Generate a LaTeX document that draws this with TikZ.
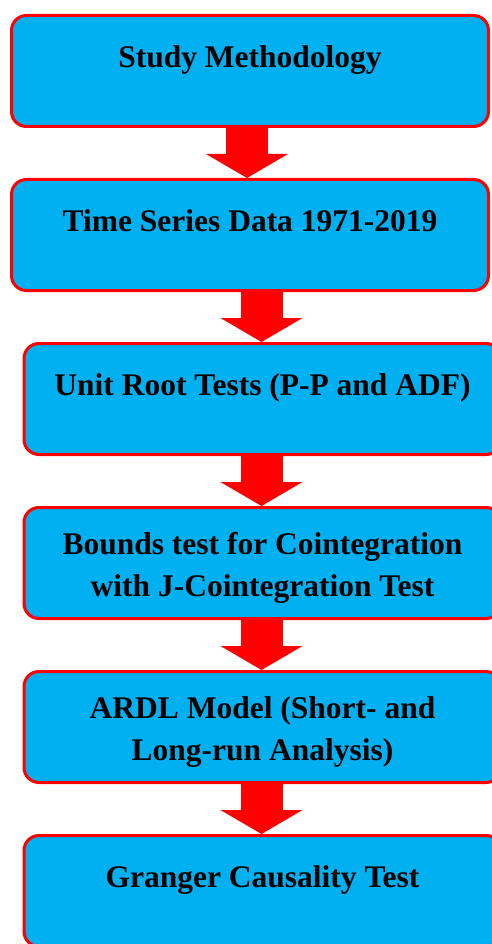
\documentclass[tikz,border=0pt]{standalone}
\usepackage{fontspec}
\setmainfont{Liberation Serif}
\usetikzlibrary{arrows.meta}
\definecolor{boxblue}{HTML}{00B0F0}
\newcommand{\topstrut}{\rule{0pt}{32pt}}
\tikzset{
  stage/.style={draw=red, line width=3pt, fill=boxblue, rounded corners=15pt,
    minimum width=477pt, minimum height=111pt, inner sep=0pt, align=center,
    font=\bfseries\fontsize{31.5}{42}\selectfont},
  oneline/.style={text height=21pt, text depth=28pt},
  flow/.style={draw=red, line width=42pt,
    -{Triangle[width=82pt,length=24pt,line width=0pt]}}
}
\begin{document}
\begin{tikzpicture}[x=1pt,y=-1pt]
\useasboundingbox (0,0) rectangle (492,944);
\node[stage, oneline] (meth) at (250,71) {Study Methodology};
\node[stage, oneline] (data) at (250,235) {Time Series Data 1971-2019};
\node[stage, oneline] (unit) at (262.5,399) {Unit Root Tests (P-P and ADF)};
\node[stage] (bounds) at (262.5,563) {\topstrut Bounds test for Cointegration\\with J-Cointegration Test};
\node[stage] (ardl) at (262.5,727) {\topstrut ARDL Model (Short- and\\Long-run Analysis)};
\node[stage, oneline] (granger) at (262.5,891) {Granger Causality Test};
% arrows between the stages
\draw[flow] ([xshift=-3pt]meth.south) -- ([xshift=-3pt]data.north);
\draw[flow] ([xshift=11.5pt]data.south) -- ([xshift=-1pt]unit.north);
\foreach \a/\b in {unit/bounds, bounds/ardl, ardl/granger}{
    \draw[flow] ([xshift=-1pt]\a.south) -- ([xshift=-1pt]\b.north);
}
\end{tikzpicture}
\end{document}
